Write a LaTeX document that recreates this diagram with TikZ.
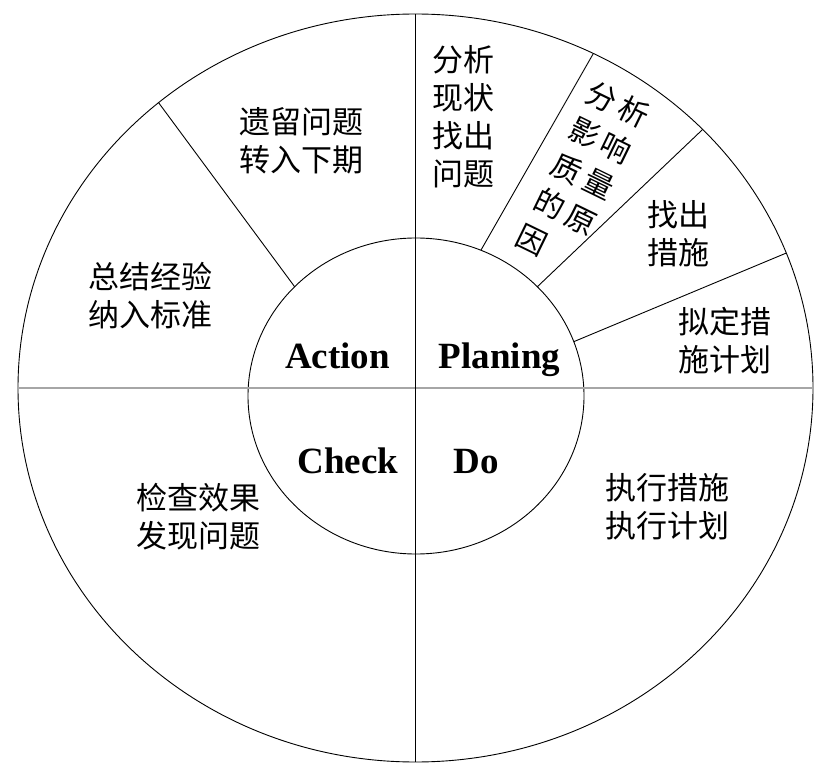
\documentclass[tikz,border=0pt]{standalone}
\usepackage{fontspec}
\setmainfont{Liberation Serif}
\newfontfamily\cjk{Noto Sans CJK SC}
\usetikzlibrary{shapes.geometric}

\begin{document}
\begin{tikzpicture}[x=1pt,y=-1pt,
  ring/.style={draw,ellipse,inner sep=0pt,outer sep=0pt,line width=0.9pt},
  sep/.style={line width=0.9pt},
  zh/.style={font=\cjk\fontsize{31}{38}\selectfont,align=center,inner sep=0pt},
  en/.style={font=\bfseries\fontsize{37}{40}\selectfont,inner sep=0pt,anchor=base}]
\fill[white] (0,0) rectangle (828,770);
\node[ring,minimum width=795pt,minimum height=748pt] (outer) at (415.5,388) {};
\node[ring,minimum width=336pt,minimum height=316pt] (inner) at (416,396) {};
\draw[gray!70,line width=2.5pt] (outer.west) -- (outer.east);
\draw[line width=1.3pt] (outer.north) -- (outer.south);
% sector borders
\draw[sep] (inner.138) -- (outer.132);
\draw[sep] (inner.66) -- (outer.62);
\draw[sep] (inner.42) -- (outer.42);
\draw[sep] (inner.19) -- (outer.20);
% Planing
\node[zh] (p1) at (463,117) {分析\\现状\\找出\\问题};
\node[zh,font=\cjk\fontsize{30}{40}\selectfont,rotate=-26,align=left] (p2) at (583,176) {分\,析\\影\,响\\质\,量\\的\,原\\因};
\node[zh] (p3) at (678,234) {找出\\措施};
\node[zh] (p4) at (725,341) {拟定措\\施计划};
% Action, Check, Do
\node[zh] (a1) at (301,141) {遗留问题\\转入下期};
\node[zh] (a2) at (150,296) {总结经验\\纳入标准};
\node[zh] (c1) at (198,517) {检查效果\\发现问题};
\node[zh] (d1) at (667,507) {执行措施\\执行计划};
\node[en] (act) at (337.5,368) {Action};
\node[en] (pla) at (499.5,368) {Planing};
\node[en] (chk) at (348,473) {Check};
\node[en] (do) at (476,473) {Do};
\end{tikzpicture}
\end{document}
